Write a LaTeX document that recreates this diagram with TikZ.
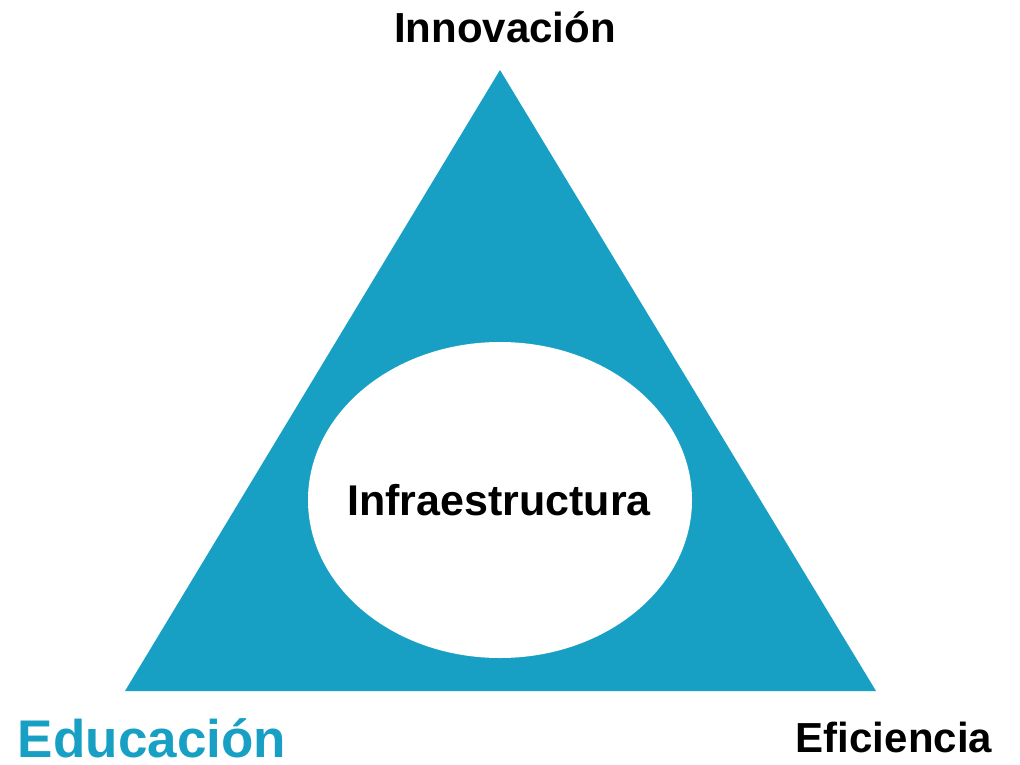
\documentclass[tikz,border=0pt]{standalone}
\usepackage{fontspec}
\setmainfont{Liberation Sans}
\usetikzlibrary{shapes.geometric}
\definecolor{teal1}{RGB}{23,160,196}
\begin{document}
\begin{tikzpicture}[x=1pt,y=-1pt,
  lbl/.style={font=\bfseries\fontsize{42}{48}\selectfont, inner sep=0pt, anchor=base}]
\useasboundingbox (0,0) rectangle (1020,764);
\fill[teal1] (500,70) coordinate (top) -- (876,691) coordinate (br) -- (125,691) coordinate (bl) -- cycle;
\node[ellipse, fill=white, minimum width=384pt, minimum height=316pt, inner sep=0pt] (ell) at (500,500) {};
\node[lbl, font=\bfseries\fontsize{43}{48}\selectfont] (inf) at (499,515) {Infraestructura};
\node[lbl] (inn) at (505,42) {Innovación};
\node[lbl] (efi) at (894,752) {Eficiencia};
\node[lbl, text=teal1, text depth=0pt, font=\bfseries\fontsize{53}{60}\selectfont] (edu) at (152,757) {Educación};
\end{tikzpicture}
\end{document}
